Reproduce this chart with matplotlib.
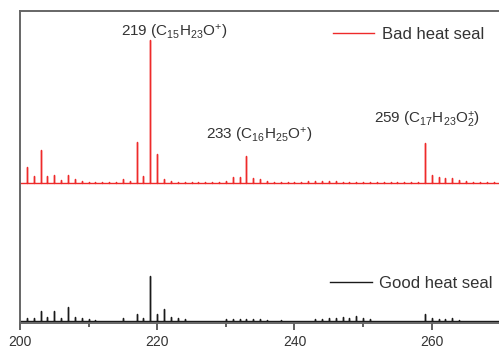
import numpy as np
import matplotlib
matplotlib.use('Agg')
import matplotlib.pyplot as plt

plt.rcParams['font.family'] = ['Liberation Sans', 'DejaVu Sans']
plt.rcParams['mathtext.fontset'] = 'custom'
plt.rcParams['mathtext.rm'] = 'Liberation Sans'
plt.rcParams['mathtext.it'] = 'Liberation Sans'
plt.rcParams['mathtext.default'] = 'regular'

# Espectros de massa (intensidade relativa, pico 219 do "bad" = 100)
mz_bad = [201, 202, 203, 204, 205, 206, 207, 208, 209, 210, 211, 212, 213, 214, 215, 216,
          217, 218, 219, 220, 221, 222, 223, 224, 225, 226, 227, 228, 229, 230, 231, 232,
          233, 234, 235, 236, 237, 238, 239, 240, 241, 242, 243, 244, 245, 246, 247, 248,
          249, 250, 251, 252, 253, 254, 255, 256, 257, 258, 259, 260, 261, 262, 263, 264,
          265, 266, 267, 268, 269]
int_bad = [11, 5, 23, 5, 5.5, 2, 5.5, 3, 1.5, 1, 1, 0.7, 0.7, 0.7, 3, 1.2,
           29, 5, 100, 20, 3, 1.5, 0.8, 0.7, 0.7, 0.7, 0.7, 0.7, 0.7, 1.2, 4, 4,
           19, 3.5, 3, 1.2, 1, 0.7, 1, 1, 0.7, 1.2, 1.2, 1.4, 1.2, 1.4, 1, 0.7,
           1, 0.7, 0.7, 0.7, 0.7, 0.7, 1, 0.7, 0.7, 1, 28, 5.5, 4, 3.5, 3.5, 2,
           1.5, 0.7, 0.7, 0.7, 1]

mz_good = [201, 202, 203, 204, 205, 206, 207, 208, 209, 210, 211, 215, 217, 218, 219, 220,
           221, 222, 223, 224, 230, 231, 232, 233, 234, 235, 236, 238, 243, 244, 245, 246,
           247, 248, 249, 250, 251, 259, 260, 261, 262, 263, 264]
int_good = [2, 2, 7, 3, 7, 2, 10, 3, 2, 1.4, 1, 2, 5, 2, 31.5, 5,
            8.5, 3, 2, 1.4, 1.2, 1.5, 1.5, 1.5, 1.2, 1.2, 1, 1, 1.2, 1.5, 2, 2,
            2.5, 2, 3.5, 2, 1.2, 5, 2, 1.4, 1.4, 2, 1]

offset_bad = 96.5

labels = ['219 (C$_{15}$H$_{23}$O$^{+}$)',
          '233 (C$_{16}$H$_{25}$O$^{+}$)',
          '259 (C$_{17}$H$_{23}$O$_{2}^{+}$)']
label_x = [222.5, 234.9, 259.3]
label_y = [202, 130, 140.5]


def stick(mz, inten, base):
    # monta o espectro em barras como uma unica linha
    xs, ys = [200], [base]
    for m, h in zip(mz, inten):
        xs += [m, m, m]
        ys += [base, base + h, base]
    xs.append(270)
    ys.append(base)
    return np.array(xs), np.array(ys)


fig = plt.figure(figsize=(4.99, 3.51), dpi=100)
ax = fig.add_axes([0.04, 0.0798, 0.96, 0.8889])

xb, yb = stick(mz_bad, int_bad, offset_bad)
xg, yg = stick(mz_good, int_good, 0)
lb, = ax.plot(xb, yb, color='#ee2a2a', lw=1.0, label='Bad heat seal')
lg, = ax.plot(xg, yg, color='#1a1a1a', lw=1.0, label='Good heat seal')

for t, x, y in zip(labels, label_x, label_y):
    ax.text(x, y, t, ha='center', va='center', fontsize=11, color='#333333')

ax.set_xlim(200, 269.8)
ax.set_ylim(-1.4, 216.8)
ax.set_xticks([200, 220, 240, 260])
ax.set_xticks([210, 230, 250], minor=True)
ax.set_yticks([])
ax.tick_params(axis='x', which='major', length=5, width=1.2, color='#444444',
               labelsize=10, labelcolor='#333333', pad=4)
ax.tick_params(axis='x', which='minor', length=3, width=1.2, color='#444444')
ax.spines['right'].set_visible(False)
for s in ['left', 'top', 'bottom']:
    ax.spines[s].set_color('#666666')
    ax.spines[s].set_linewidth(1.4)

leg_kw = dict(loc='center left', frameon=False, fontsize=12, handlelength=2.5,
              handletextpad=0.45, borderpad=0, borderaxespad=0, labelcolor='#333333')
leg1 = ax.legend(handles=[lb], bbox_to_anchor=(0.653, 0.926), **leg_kw)
ax.add_artist(leg1)
ax.legend(handles=[lg], bbox_to_anchor=(0.647, 0.128), **leg_kw)

plt.savefig('out.png', dpi=100)
